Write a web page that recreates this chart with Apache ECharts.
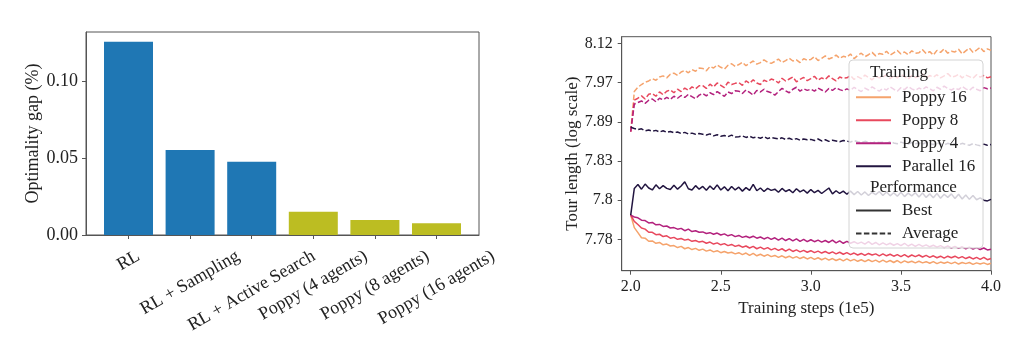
<!DOCTYPE html>
<html><head><meta charset="utf-8">
<script src="https://cdn.jsdelivr.net/npm/echarts@6/dist/echarts.min.js"></script>
<style>html,body{margin:0;padding:0;background:#fff}#c{width:1024px;height:343px}</style>
</head><body><div id="c"></div>
<script>
// ---------- Left chart data ----------
const barCategories = ['RL', 'RL + Sampling', 'RL + Active Search', 'Poppy (4 agents)', 'Poppy (8 agents)', 'Poppy (16 agents)'];
const barValues = [0.126, 0.0554, 0.0478, 0.0152, 0.0098, 0.0076];
const barYTicks = [0, 0.05, 0.10];

// ---------- Right chart data ----------
// training steps (1e5)
const steps = [2.00,2.02,2.04,2.06,2.08,2.10,2.12,2.14,2.16,2.18,2.20,2.22,2.24,2.26,2.28,2.30,2.32,2.34,2.36,2.38,
2.40,2.42,2.44,2.46,2.48,2.50,2.52,2.54,2.56,2.58,2.60,2.62,2.64,2.66,2.68,2.70,2.72,2.74,2.76,2.78,
2.80,2.82,2.84,2.86,2.88,2.90,2.92,2.94,2.96,2.98,3.00,3.02,3.04,3.06,3.08,3.10,3.12,3.14,3.16,3.18,
3.20,3.22,3.24,3.26,3.28,3.30,3.32,3.34,3.36,3.38,3.40,3.42,3.44,3.46,3.48,3.50,3.52,3.54,3.56,3.58,
3.60,3.62,3.64,3.66,3.68,3.70,3.72,3.74,3.76,3.78,3.80,3.82,3.84,3.86,3.88,3.90,3.92,3.94,3.96,3.98,4.00];
const xTicks = [2.0, 2.5, 3.0, 3.5, 4.0];
// log-scale tour length axis: positions of the ticks (axis units) and their labels
const tourTickPositions = [0, 100, 200, 300, 400, 500];
const tourTickLabels = ['7.78', '7.8', '7.83', '7.89', '7.97', '8.12'];
// curves, in the same axis units
const poppy16Avg = [275,377,388,395,401,404,410,406,414,417, 412,421,424,418,427,431,425,433,429,437,
436,430,441,437,445,439,434,444,448,441, 446,452,443,449,455,447,451,458,452,449,
454,460,451,456,462,455,458,451,461,457, 459,466,456,462,468,460,464,470,462,467,
465,473,461,469,475,466,471,477,468,474, 472,480,470,476,482,473,478,471,481,475,
476,484,474,479,470,482,477,486,475,480, 478,485,473,481,488,477,483,490,479,486, 482];
const poppy8Avg = [275,355,360,366,358,370,372,365,376,369, 378,381,374,383,377,386,380,389,384,392,
392,385,396,389,399,393,387,401,395,398, 400,393,404,398,407,399,395,406,402,409,
406,399,411,404,409,414,402,408,413,405, 410,416,406,412,408,417,410,404,414,411,
412,418,408,415,410,419,413,407,416,412, 414,420,410,417,412,421,415,409,418,413,
416,422,411,418,414,420,412,417,423,414, 416,421,412,419,415,411,420,414,418,412, 415];
const poppy4Avg = [275,345,349,353,347,355,358,351,360,356, 362,357,365,360,367,362,370,364,359,368,
372,366,374,369,377,371,365,376,372,379, 378,372,381,375,368,380,376,383,377,374,
368,377,385,379,374,383,388,378,384,380, 383,378,386,381,376,385,380,387,382,379,
384,380,388,382,377,386,381,389,383,378, 385,381,389,383,378,387,382,390,384,380,
386,382,389,384,379,388,383,391,385,381, 386,382,390,384,380,388,383,379,387,384, 386];
const parallel16Avg = [286,283,280,282,277,279,276,278,274,277, 273,275,272,274,270,273,269,271,268,270,
268,266,269,264,267,263,265,262,266,261, 262,264,260,263,259,261,258,262,257,260,
258,256,259,255,258,254,257,253,256,254, 255,252,256,251,254,250,253,251,249,252,
251,248,252,249,247,250,248,246,249,247, 248,245,249,246,244,248,245,243,247,244,
246,243,247,244,242,246,243,241,245,242, 244,241,245,242,240,244,241,239,243,240, 242];
const parallel16Best = [62,130,140,128,141,131,126,139,129,137, 130,127,138,128,136,147,129,126,137,128,
135,125,136,127,139,126,134,124,135,126, 133,123,132,125,140,124,131,122,130,125,
128,120,130,122,127,119,129,121,126,118, 127,119,125,117,124,131,116,124,117,123,
115,123,114,122,113,121,112,120,114,122, 112,121,111,119,110,120,109,118,111,119,
108,118,107,116,106,117,105,115,107,116, 104,115,103,113,102,112,101,106,100,98, 102];
const poppy4Best = [62,57,55,49,48,42,43,37,38,33, 34,29,30,26,28,22,26,20,22,18,
19,15,17,13,16,11,14,9,12,7, 10,5,8,4,8,3,6,1,5,0,
4,-2,3,-3,2,-4,1,-5,0,-6, -1,-6,-2,-7,-3,-8,-2,-9,-4,-10,
-5,-10,-6,-11,-7,-12,-6,-13,-8,-14, -9,-14,-10,-15,-11,-16,-10,-17,-12,-18,
-13,-18,-14,-19,-15,-20,-16,-21,-17,-22, -18,-23,-19,-24,-20,-25,-21,-26,-22,-27, -25];
const poppy8Best = [62,46,38,29,26,18,18,12,13,7, 9,3,5,0,2,-2,0,-5,-3,-7,
-5,-10,-7,-12,-9,-14,-11,-16,-13,-18, -15,-20,-17,-22,-18,-24,-20,-25,-21,-27,
-23,-28,-24,-30,-25,-31,-27,-32,-28,-33, -29,-34,-30,-35,-31,-36,-32,-37,-33,-38,
-34,-39,-35,-40,-36,-41,-36,-40,-37,-42, -37,-42,-38,-43,-39,-44,-39,-45,-40,-44,
-40,-45,-41,-46,-42,-47,-43,-48,-43,-47, -43,-48,-44,-49,-45,-50,-46,-51,-46,-52, -49];
const poppy16Best = [62,30,17,4,3,-5,-4,-10,-8,-14, -12,-17,-16,-21,-18,-24,-21,-26,-23,-28,
-25,-30,-27,-32,-29,-34,-31,-35,-33,-37, -34,-39,-35,-41,-36,-42,-38,-43,-39,-44,
-41,-46,-42,-47,-43,-48,-44,-49,-45,-50, -46,-51,-47,-52,-48,-53,-49,-54,-50,-55,
-50,-55,-51,-56,-52,-57,-52,-57,-53,-58, -53,-58,-54,-59,-54,-60,-55,-59,-56,-60,
-56,-60,-57,-61,-57,-62,-58,-61,-58,-62, -58,-63,-59,-62,-59,-64,-60,-63,-60,-64, -61];
const trainingNames = ['Poppy 16', 'Poppy 8', 'Poppy 4', 'Parallel 16'];
const performanceNames = ['Best', 'Average'];

// ---------- styles ----------
const SERIF = '"Liberation Serif", "DejaVu Serif", serif';
const TXT = '#222';
const FRAME = '#555';
const runColors = {'Poppy 16': '#f5a36c', 'Poppy 8': '#e8485d', 'Poppy 4': '#b3217d', 'Parallel 16': '#221540'};
const bestData = {'Poppy 16': poppy16Best, 'Poppy 8': poppy8Best, 'Poppy 4': poppy4Best, 'Parallel 16': parallel16Best};
const avgData = {'Poppy 16': poppy16Avg, 'Poppy 8': poppy8Avg, 'Poppy 4': poppy4Avg, 'Parallel 16': parallel16Avg};

// rotated, centered bar labels (matplotlib rotation=30, ha=center)
const LFS = 18;
const mctx = document.createElement('canvas').getContext('2d');
mctx.font = LFS + 'px "Liberation Serif"';
const rich = {};
barCategories.forEach((name, i) => {
  const W = mctx.measureText(name).width;
  const H = LFS;
  const s = (0.5 * W + 0.866 * H) / 2;
  rich['l' + i] = {fontFamily: SERIF, fontSize: LFS, color: TXT, padding: [1.732 * s, s, 0, 0]};
});

const chart = echarts.init(document.getElementById('c'), null, {renderer: 'canvas'});

const series = [];
// left bars
series.push({
  type: 'bar', xAxisIndex: 0, yAxisIndex: 0, barWidth: 49,
  data: barValues.map((v, i) => ({value: [i, v], itemStyle: {color: barCategories[i].startsWith('Poppy') ? '#bcbd22' : '#1f77b4'}})),
  silent: true
});
// right lines
trainingNames.forEach(n => {
  series.push({
    name: n, type: 'line', xAxisIndex: 1, yAxisIndex: 1, symbol: 'none', showSymbol: false, color: runColors[n],
    lineStyle: {width: 1.5, color: runColors[n]},
    data: steps.map((x, i) => [x, bestData[n][i]])
  });
});
trainingNames.forEach(n => {
  series.push({
    name: n, type: 'line', xAxisIndex: 1, yAxisIndex: 1, symbol: 'none', showSymbol: false, color: runColors[n],
    lineStyle: {width: 1.5, color: runColors[n], type: [5.5, 2.4]},
    data: steps.map((x, i) => [x, avgData[n][i]])
  });
});
// legend-only series for performance style
series.push({name: 'Best', type: 'line', xAxisIndex: 1, yAxisIndex: 1, symbol: 'none', color: '#333', lineStyle: {width: 1.5, color: '#333'}, data: []});
series.push({name: 'Average', type: 'line', xAxisIndex: 1, yAxisIndex: 1, symbol: 'none', color: '#333', lineStyle: {width: 1.5, color: '#333', type: [5.5, 2.4]}, data: []});

const legendCommon = {
  orient: 'vertical', left: 855, padding: 0, z: 200,
  itemWidth: 35, itemHeight: 16, itemGap: 6, selectedMode: false,
  itemStyle: {opacity: 0},
  lineStyle: {width: 2},
  textStyle: {fontFamily: SERIF, fontSize: 17, color: TXT, lineHeight: 16, padding: [0, 0, 0, 6]}
};

const option = {
  animation: false,
  backgroundColor: '#fff',
  textStyle: {fontFamily: SERIF},
  grid: [
    {left: 86, right: 1024 - 479, top: 32, bottom: 343 - 235, show: true, borderColor: FRAME, borderWidth: 1, backgroundColor: 'transparent'},
    {left: 621.7, right: 1024 - 991, top: 36.7, bottom: 343 - 270.7, show: true, borderColor: FRAME, borderWidth: 1, backgroundColor: 'transparent'}
  ],
  xAxis: [
    {
      type: 'value', gridIndex: 0, min: -0.69, max: 5.69,
      axisLine: {show: true, onZero: false, lineStyle: {color: FRAME}},
      axisTick: {show: true, length: 4, customValues: [0, 1, 2, 3, 4, 5], lineStyle: {color: FRAME}},
      splitLine: {show: false},
      axisLabel: {
        customValues: [0, 1, 2, 3, 4, 5], rotate: 30, margin: 12, align: 'center', verticalAlign: 'middle',
        formatter: v => { const i = Math.round(v); return '{l' + i + '|' + barCategories[i] + '}'; },
        rich: rich
      }
    },
    {
      type: 'value', gridIndex: 1, min: 1.95, max: 4.0,
      axisLine: {show: true, onZero: false, lineStyle: {color: FRAME}},
      axisTick: {show: true, length: 4, customValues: xTicks, lineStyle: {color: FRAME}},
      splitLine: {show: false},
      axisLabel: {customValues: xTicks, margin: 8, fontFamily: SERIF, fontSize: 16, color: TXT, formatter: v => v.toFixed(1)},
      name: 'Training steps (1e5)', nameLocation: 'middle', nameGap: 26,
      nameTextStyle: {fontFamily: SERIF, fontSize: 17, color: TXT}
    }
  ],
  yAxis: [
    {
      type: 'value', gridIndex: 0, min: 0, max: 0.1324,
      axisLine: {show: true, onZero: false, lineStyle: {color: FRAME}},
      axisTick: {show: true, length: 4, customValues: barYTicks, lineStyle: {color: FRAME}},
      splitLine: {show: false},
      axisLabel: {customValues: barYTicks, margin: 8, fontFamily: SERIF, fontSize: 18, color: TXT, formatter: v => v.toFixed(2)},
      name: 'Optimality gap (%)', nameLocation: 'middle', nameGap: 44, nameRotate: 90,
      nameTextStyle: {fontFamily: SERIF, fontSize: 18, color: TXT}
    },
    {
      type: 'value', gridIndex: 1, min: -80, max: 517,
      axisLine: {show: true, onZero: false, lineStyle: {color: FRAME}},
      axisTick: {show: true, length: 4, customValues: tourTickPositions, lineStyle: {color: FRAME}},
      splitLine: {show: false},
      axisLabel: {customValues: tourTickPositions, margin: 9, fontFamily: SERIF, fontSize: 16, color: TXT,
        formatter: v => tourTickLabels[tourTickPositions.indexOf(Math.round(v))] || ''},
      name: 'Tour length (log scale)', nameLocation: 'middle', nameGap: 41, nameRotate: 90,
      nameTextStyle: {fontFamily: SERIF, fontSize: 17, color: TXT}
    }
  ],
  legend: [
    Object.assign({data: trainingNames, top: 88.7}, legendCommon),
    Object.assign({data: performanceNames, top: 202}, legendCommon)
  ],
  graphic: [
    {type: 'rect', z: 100, shape: {x: 849, y: 60, width: 134, height: 188, r: 4},
     style: {fill: 'rgba(255,255,255,0.8)', stroke: '#d4d4d4', lineWidth: 1}},
    {type: 'text', z: 110, x: 870, y: 73, style: {text: 'Training', font: '17px ' + SERIF, fill: TXT, textAlign: 'left', textVerticalAlign: 'middle'}},
    {type: 'text', z: 110, x: 870, y: 188, style: {text: 'Performance', font: '17px ' + SERIF, fill: TXT, textAlign: 'left', textVerticalAlign: 'middle'}}
  ],
  series: series
};
chart.setOption(option);
</script>
</body></html>
